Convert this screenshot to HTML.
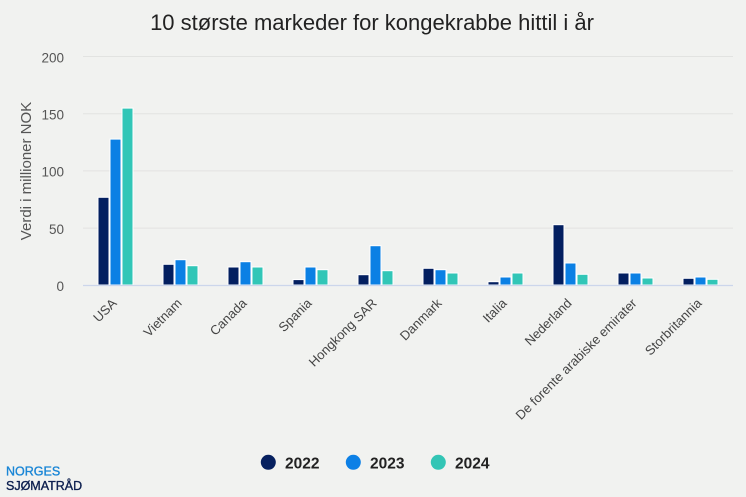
<!DOCTYPE html>
<html>
<head>
<meta charset="utf-8">
<style>
html,body{margin:0;padding:0;background:#f1f2f0;}
svg{display:block;font-family:"Liberation Sans",Arial,sans-serif;}
</style>
</head>
<body>
<svg width="746" height="497" viewBox="0 0 746 497" xmlns="http://www.w3.org/2000/svg">
<rect x="0" y="0" width="746" height="497" fill="#f1f2f0"/>
<text x="372" y="30" text-anchor="middle" font-size="22" fill="#222">10 største markeder for kongekrabbe hittil i år</text>

<!-- grid -->
<g stroke="#e2e3e1" stroke-width="1">
<line x1="83" x2="733" y1="56.5" y2="56.5"/>
<line x1="83" x2="733" y1="113.7" y2="113.7"/>
<line x1="83" x2="733" y1="170.9" y2="170.9"/>
<line x1="83" x2="733" y1="228.1" y2="228.1"/>
</g>

<!-- y labels -->
<g font-size="13.5" fill="#555" text-anchor="end">
<text x="64" y="62.3">200</text>
<text x="64" y="119.5">150</text>
<text x="64" y="176.7">100</text>
<text x="64" y="233.9">50</text>
<text x="64" y="291">0</text>
</g>
<text transform="translate(31,171) rotate(-90)" text-anchor="middle" font-size="15" fill="#555">Verdi i millioner NOK</text>

<!-- bars -->
<g stroke="#ffffff" stroke-width="1">
<g fill="#031f60">
<rect x="98" y="197.3" width="11" height="87.7"/>
<rect x="163" y="264.3" width="11" height="20.7"/>
<rect x="228" y="267" width="11" height="18"/>
<rect x="293" y="279.6" width="11" height="5.4"/>
<rect x="358" y="274.7" width="11" height="10.3"/>
<rect x="423" y="268.3" width="11" height="16.7"/>
<rect x="488" y="281.7" width="11" height="3.3"/>
<rect x="553" y="224.7" width="11" height="60.3"/>
<rect x="618" y="273" width="11" height="12"/>
<rect x="683" y="278.3" width="11" height="6.7"/>
</g>
<g fill="#0b80e4">
<rect x="110" y="139.1" width="11" height="145.9"/>
<rect x="175" y="259.7" width="11" height="25.3"/>
<rect x="240" y="261.7" width="11" height="23.3"/>
<rect x="305" y="267" width="11" height="18"/>
<rect x="370" y="245.7" width="11" height="39.3"/>
<rect x="435" y="269.7" width="11" height="15.3"/>
<rect x="500" y="277" width="11" height="8"/>
<rect x="565" y="263" width="11" height="22"/>
<rect x="630" y="273" width="11" height="12"/>
<rect x="695" y="277" width="11" height="8"/>
</g>
<g fill="#31c6b7">
<rect x="122" y="108.1" width="11" height="176.9"/>
<rect x="187" y="265.7" width="11" height="19.3"/>
<rect x="252" y="267" width="11" height="18"/>
<rect x="317" y="269.7" width="11" height="15.3"/>
<rect x="382" y="270.7" width="11" height="14.3"/>
<rect x="447" y="273" width="11" height="12"/>
<rect x="512" y="273" width="11" height="12"/>
<rect x="577" y="274.3" width="11" height="10.7"/>
<rect x="642" y="278" width="11" height="7"/>
<rect x="707" y="279.3" width="11" height="5.7"/>
</g>
</g>

<line x1="83" x2="733" y1="285.5" y2="285.5" stroke="#ccd6eb" stroke-width="1.2"/>

<!-- x labels -->
<g font-size="13" fill="#444" text-anchor="end">
<text transform="translate(117.5,304) rotate(-45)">USA</text>
<text transform="translate(182.5,304) rotate(-45)">Vietnam</text>
<text transform="translate(247.5,304) rotate(-45)">Canada</text>
<text transform="translate(312.5,304) rotate(-45)">Spania</text>
<text transform="translate(377.5,304) rotate(-45)">Hongkong SAR</text>
<text transform="translate(442.5,304) rotate(-45)">Danmark</text>
<text transform="translate(507.5,304) rotate(-45)">Italia</text>
<text transform="translate(572.5,304) rotate(-45)">Nederland</text>
<text transform="translate(637.5,304) rotate(-45)">De forente arabiske emirater</text>
<text transform="translate(702.5,304) rotate(-45)">Storbritannia</text>
</g>

<!-- legend -->
<circle cx="268.3" cy="462.3" r="7.5" fill="#06205f"/>
<circle cx="353.3" cy="462.3" r="7.5" fill="#0d80e6"/>
<circle cx="438.3" cy="462.3" r="7.5" fill="#33c5b5"/>
<g font-size="15.5" font-weight="bold" fill="#222">
<text x="285" y="468.3">2022</text>
<text x="370" y="468.3">2023</text>
<text x="455" y="468.3">2024</text>
</g>

<!-- logo -->
<text x="6" y="475.3" font-size="12.5" fill="#1a86d6" stroke="#1a86d6" stroke-width="0.35">NORGES</text>
<text x="6" y="490" font-size="12.5" fill="#0d1f4f" stroke="#0d1f4f" stroke-width="0.35">SJØMATRÅD</text>
</svg>
</body>
</html>
